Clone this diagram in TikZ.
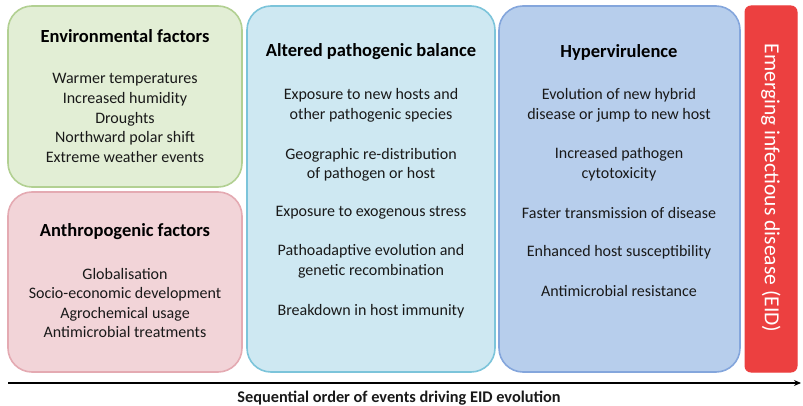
\documentclass[tikz,border=0pt]{standalone}
\usepackage{fontspec}
\setmainfont{Carlito}
\usetikzlibrary{arrows.meta}
\definecolor{envfill}{RGB}{226,238,213}
\definecolor{envline}{RGB}{178,208,146}
\definecolor{antfill}{RGB}{242,212,216}
\definecolor{antline}{RGB}{228,170,178}
\definecolor{altfill}{RGB}{206,232,242}
\definecolor{altline}{RGB}{124,196,218}
\definecolor{hypfill}{RGB}{183,206,236}
\definecolor{hypline}{RGB}{132,166,220}
\definecolor{eidfill}{RGB}{236,64,64}
\definecolor{txt}{RGB}{25,25,25}
\tikzset{
  panel/.style={draw, line width=1.6pt, rounded corners=24pt},
  ttl/.style={font=\fontsize{18.5}{20}\selectfont\bfseries, text=black, anchor=center},
  itm/.style={font=\fontsize{16}{19.6}\selectfont, text=txt, align=center, anchor=center},
}
\begin{document}
\begin{tikzpicture}[x=1pt,y=-1pt]
\useasboundingbox (0,0) rectangle (803,406);
% panels
\draw[panel, fill=envfill, draw=envline] (8,6) rectangle (242,187);
\draw[panel, fill=antfill, draw=antline] (8,192) rectangle (242,372);
\draw[panel, fill=altfill, draw=altline] (247,6) rectangle (495,372);
\draw[panel, fill=hypfill, draw=hypline] (499,6) rectangle (740,372);
\draw[fill=eidfill, draw=eidfill, line width=1pt, rounded corners=6pt] (745,6) rectangle (797,372);
% environmental
\node[ttl] (envt) at (125,36) {Environmental factors};
\node[itm] (envi) at (125,118) {Warmer temperatures\\Increased humidity\\Droughts\\Northward polar shift\\Extreme weather events};
% anthropogenic
\node[ttl] (antt) at (125,232) {Anthropogenic factors};
\node[itm] (anti) at (125,303) {Globalisation\\Socio-economic development\\Agrochemical usage\\Antimicrobial treatments};
% altered
\node[ttl] (altt) at (371,52) {Altered pathogenic balance};
\node[itm] (alt1) at (371,105.5) {Exposure to new hosts and\\other pathogenic species};
\node[itm] (alt2) at (371,165) {Geographic re-distribution\\of pathogen or host};
\node[itm] (alt3) at (371,213) {Exposure to exogenous stress};
\node[itm] (alt4) at (371,261.5) {Pathoadaptive evolution and\\genetic recombination};
\node[itm] (alt5) at (371,311) {Breakdown in host immunity};
% hypervirulence
\node[ttl] (hypt) at (619,52) {Hypervirulence};
\node[itm] (hyp1) at (619,105.5) {Evolution of new hybrid\\disease or jump to new host};
\node[itm] (hyp2) at (619,164.5) {Increased pathogen\\cytotoxicity};
\node[itm] (hyp3) at (619,213) {Faster transmission of disease};
\node[itm] (hyp4) at (619,252) {Enhanced host susceptibility};
\node[itm] (hyp5) at (619,291) {Antimicrobial resistance};
% EID
\node[rotate=-90, text=white, font=\fontsize{21.5}{23}\selectfont, anchor=center] (eid) at (771,188) {Emerging infectious disease (EID)};
% arrow
\coordinate (as) at (8,383);
\coordinate (ae) at (801,383);
\draw[line width=1.6pt, -{Stealth[length=7pt,width=6pt]}] (as) -- (ae);
\node[font=\fontsize{16.3}{18}\selectfont\bfseries, text=txt] (axl) at (399,398) {Sequential order of events driving EID evolution};
\end{tikzpicture}
\end{document}
